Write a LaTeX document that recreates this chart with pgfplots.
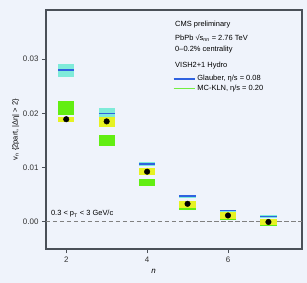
\documentclass[border=0pt]{standalone}
\usepackage{pgfplots}
\pgfplotsset{compat=1.18}
\usepackage{pgfplotstable}
\usepackage{fontspec}
\setmainfont{Liberation Sans}
\definecolor{bg}{HTML}{EFF3FB}
\definecolor{framec}{HTML}{4A5058}
\definecolor{cyanbox}{HTML}{7FEBD9}
\definecolor{greenbox}{HTML}{62EE12}
\definecolor{yellowbox}{HTML}{E6F222}
\definecolor{blueline}{HTML}{2F62E0}
\definecolor{greenline}{HTML}{72EE40}

% Glauber band: n, centre, half-height
\pgfplotstableread{
n mid err
2 0.0279 0.0012
3 0.0200 0.0010
4 0.0106 0.0003
5 0.00465 0.00025
6 0.00195 0.00025
7 0.00085 0.00025
}\glauberband
\pgfplotstableread{
n v
2 0.0280
3 0.0200
4 0.0106
5 0.00468
6 0.00197
7 0.00087
}\glauberline
\pgfplotstableread{
n mid err
2 0.0209 0.0013
3 0.01495 0.00095
4 0.00725 0.00065
5 0.00255 0.00035
6 0.0007 0.0004
7 -0.00055 0.00035
}\mcklnband
\pgfplotstableread{
n mid err
2 0.01885 0.00055
3 0.0184 0.0009
4 0.00915 0.00065
5 0.00315 0.00065
6 0.0011 0.0006
7 -0.00005 0.00055
}\datasyst
\pgfplotstableread{
n v
2 0.0189
3 0.0185
4 0.0092
5 0.00326
6 0.0011
7 -0.0001
}\datapts

\begin{document}
\begin{tikzpicture}
\path[use as bounding box, fill=bg] (-46bp,-34bp) rectangle (261bp,249bp);
\begin{axis}[
  at={(0,0)}, anchor=south west,
  scale only axis, width=256bp, height=239bp,
  xmin=1.5, xmax=7.83, ymin=-0.0051, ymax=0.0391,
  axis line style={framec, line width=1.1bp},
  tick style={framec, line width=0.8bp},
  tick align=outside, major tick length=4bp,
  xtick pos=left, ytick pos=left,
  xtick={2,4,6}, ytick={0,0.01,0.02,0.03},
  yticklabel style={/pgf/number format/.cd, fixed, fixed zerofill, precision=2},
  /pgf/number format/assume math mode=true,
  scaled y ticks=false,
  tick label style={font=\fontsize{8}{9}\selectfont, text=black!80},
  xlabel={\itshape n}, ylabel={v\textsubscript{n} \{2part, |Δη| > 2\}},
  xlabel style={font=\fontsize{8}{9}\selectfont, at={(rel axis cs:0.42,0)}, anchor=north, yshift=-17bp},
  ylabel style={font=\fontsize{7.5}{9}\selectfont, yshift=-3bp},
  legend style={at={(0.495,0.735)}, anchor=north west, draw=none, fill=none,
    font=\fontsize{7.5}{9}\selectfont, row sep=-1.5bp, inner sep=0pt},
  legend cell align=left,
  legend image code/.code={\draw[#1] (0bp,0bp) -- (21bp,0bp);},
  clip=false,
]
% zero line
\addplot[gray, dashed, line width=0.9bp, dash pattern=on 4.5bp off 2.5bp, forget plot] coordinates {(1.5,0) (7.83,0)};
% Glauber band
\addplot[draw=none, mark=none, forget plot,
  error bars/.cd, y dir=both, y explicit, error mark=none,
  error bar style={draw=cyanbox, line width=16.2bp}]
  table[x=n, y=mid, y error=err] {\glauberband};
% MC-KLN band
\addplot[draw=none, mark=none, forget plot,
  error bars/.cd, y dir=both, y explicit, error mark=none,
  error bar style={draw=greenbox, line width=16.2bp}]
  table[x=n, y=mid, y error=err] {\mcklnband};
% data systematics
\addplot[draw=none, mark=none, forget plot,
  error bars/.cd, y dir=both, y explicit, error mark=none,
  error bar style={draw=yellowbox, line width=16.2bp}]
  table[x=n, y=mid, y error=err] {\datasyst};
% Glauber line
\addplot[draw=none, mark=none, forget plot,
  error bars/.cd, x dir=both, x fixed=0.2, error mark=none,
  error bar style={draw=blueline, line width=1.3bp}]
  table[x=n, y=v] {\glauberline};
% data points
\addplot[only marks, mark=*, mark size=2.8bp, black, forget plot] table[x=n, y=v] {\datapts};
% legend entries
\addlegendimage{blueline, line width=1.3bp}
\addlegendentry{Glauber, η/s = 0.08}
\addlegendimage{greenline, line width=1.5bp}
\addlegendentry{MC-KLN, η/s = 0.20}
\node[anchor=west, font=\fontsize{7.5}{9}\selectfont, inner sep=0pt] at (rel axis cs:0.504,0.937) {CMS preliminary};
\node[anchor=west, font=\fontsize{7.5}{9}\selectfont, inner sep=0pt] at (rel axis cs:0.504,0.883) {PbPb √s\textsubscript{nn} = 2.76 TeV};
\node[anchor=west, font=\fontsize{7.5}{9}\selectfont, inner sep=0pt] at (rel axis cs:0.504,0.833) {0–0.2\% centrality};
\node[anchor=west, font=\fontsize{7.5}{9}\selectfont, inner sep=0pt] at (rel axis cs:0.504,0.766) {VISH2+1 Hydro};
\node[anchor=south west, font=\fontsize{7.5}{9}\selectfont, inner sep=0pt] at (axis cs:1.62,0.0007) {0.3 < p\textsubscript{T} < 3 GeV/c};
\end{axis}
\end{tikzpicture}
\end{document}
